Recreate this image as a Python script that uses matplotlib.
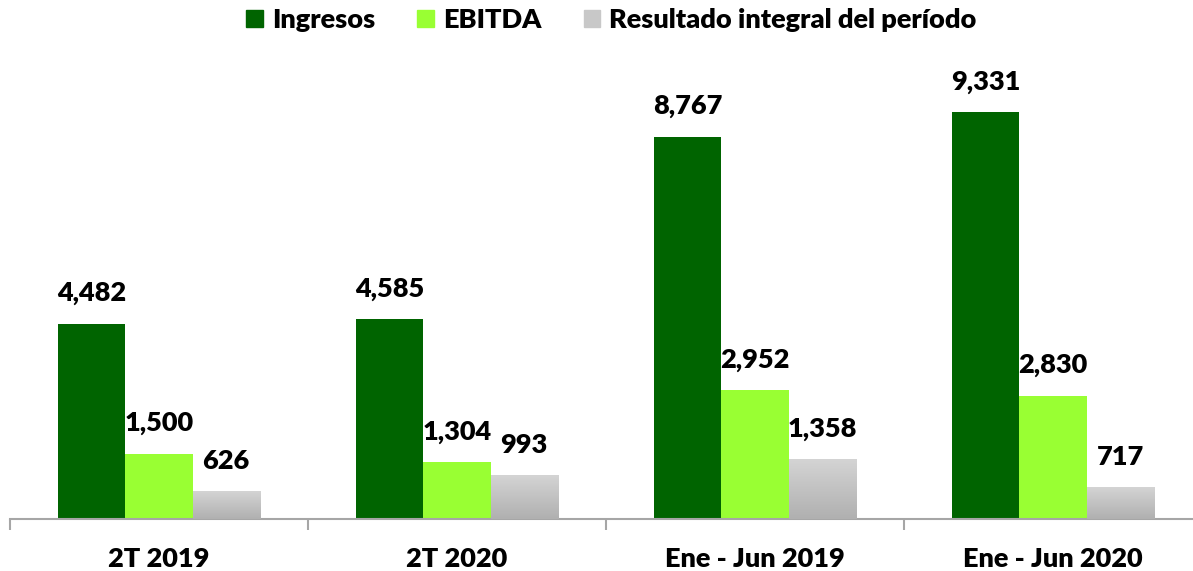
import matplotlib
matplotlib.use("Agg")
import matplotlib.pyplot as plt
import numpy as np
from matplotlib.colors import LinearSegmentedColormap

categories = ["2T 2019", "2T 2020", "Ene - Jun 2019", "Ene - Jun 2020"]
series_names = ["Ingresos", "EBITDA", "Resultado integral del período"]
ingresos = [4482, 4585, 8767, 9331]
ebitda = [1500, 1304, 2952, 2830]
resultado = [626, 993, 1358, 717]

colors = ["#006400", "#99ff33", "#c8c8c8"]

plt.rcParams['font.family'] = ['Lato', 'DejaVu Sans']
WEIGHT = 'heavy'

fig = plt.figure(figsize=(11.93, 5.71), dpi=100)
ax = fig.add_axes([10/1193, 52/571, 1192/1193, 436/571])

x = np.arange(len(categories))
w = 0.225
all_series = [ingresos, ebitda, resultado]
containers = []
for i, (vals, c, name) in enumerate(zip(all_series, colors, series_names)):
    bc = ax.bar(x + (i - 1) * w, vals, width=w, color=c, label=name, zorder=2)
    containers.append(bc)
    for rect, v in zip(bc, vals):
        ax.text(rect.get_x() + rect.get_width() / 2, v + 420, f"{v:,}",
                ha='center', va='bottom', fontsize=19.5, fontweight=WEIGHT, color='black')

grad = np.linspace(0, 1, 100).reshape(-1, 1)
cmap = LinearSegmentedColormap.from_list("g", ["#b0b0b0", "#d4d4d4"])
for rect in containers[2]:
    x0, y0 = rect.get_x(), rect.get_y()
    x1, y1 = x0 + rect.get_width(), y0 + rect.get_height()
    ax.imshow(grad, extent=[x0, x1, y0, y1], aspect='auto', cmap=cmap,
              origin='lower', zorder=3)
    rect.set_facecolor('none')

ax.set_xlim(-0.5, 3.5)
ax.set_ylim(0, 10000)
ax.set_yticks([])
for s in ['top', 'right', 'left']:
    ax.spines[s].set_visible(False)
ax.spines['bottom'].set_color('#a6a6a6')
ax.spines['bottom'].set_linewidth(1.5)
ax.set_xticks(np.arange(-0.5, 4.0, 1.0))
ax.set_xticklabels([])
ax.tick_params(axis='x', which='major', length=8, width=1.5, color='#a6a6a6')
ax.set_xticks(x, minor=True)
ax.set_xticklabels(categories, minor=True, fontsize=19.5, fontweight=WEIGHT)
ax.tick_params(axis='x', which='minor', length=0, pad=20)

handles = [plt.Rectangle((0, 0), 1, 1, color=c) for c in colors]
fig.legend(handles, series_names, loc='upper center', bbox_to_anchor=(0.5126, 1.028),
           ncol=3, frameon=False, handlelength=0.6, handleheight=0.6,
           handletextpad=0.35, columnspacing=1.55,
           prop={'weight': WEIGHT, 'size': 19.5})

fig.savefig("out.png", dpi=100)
